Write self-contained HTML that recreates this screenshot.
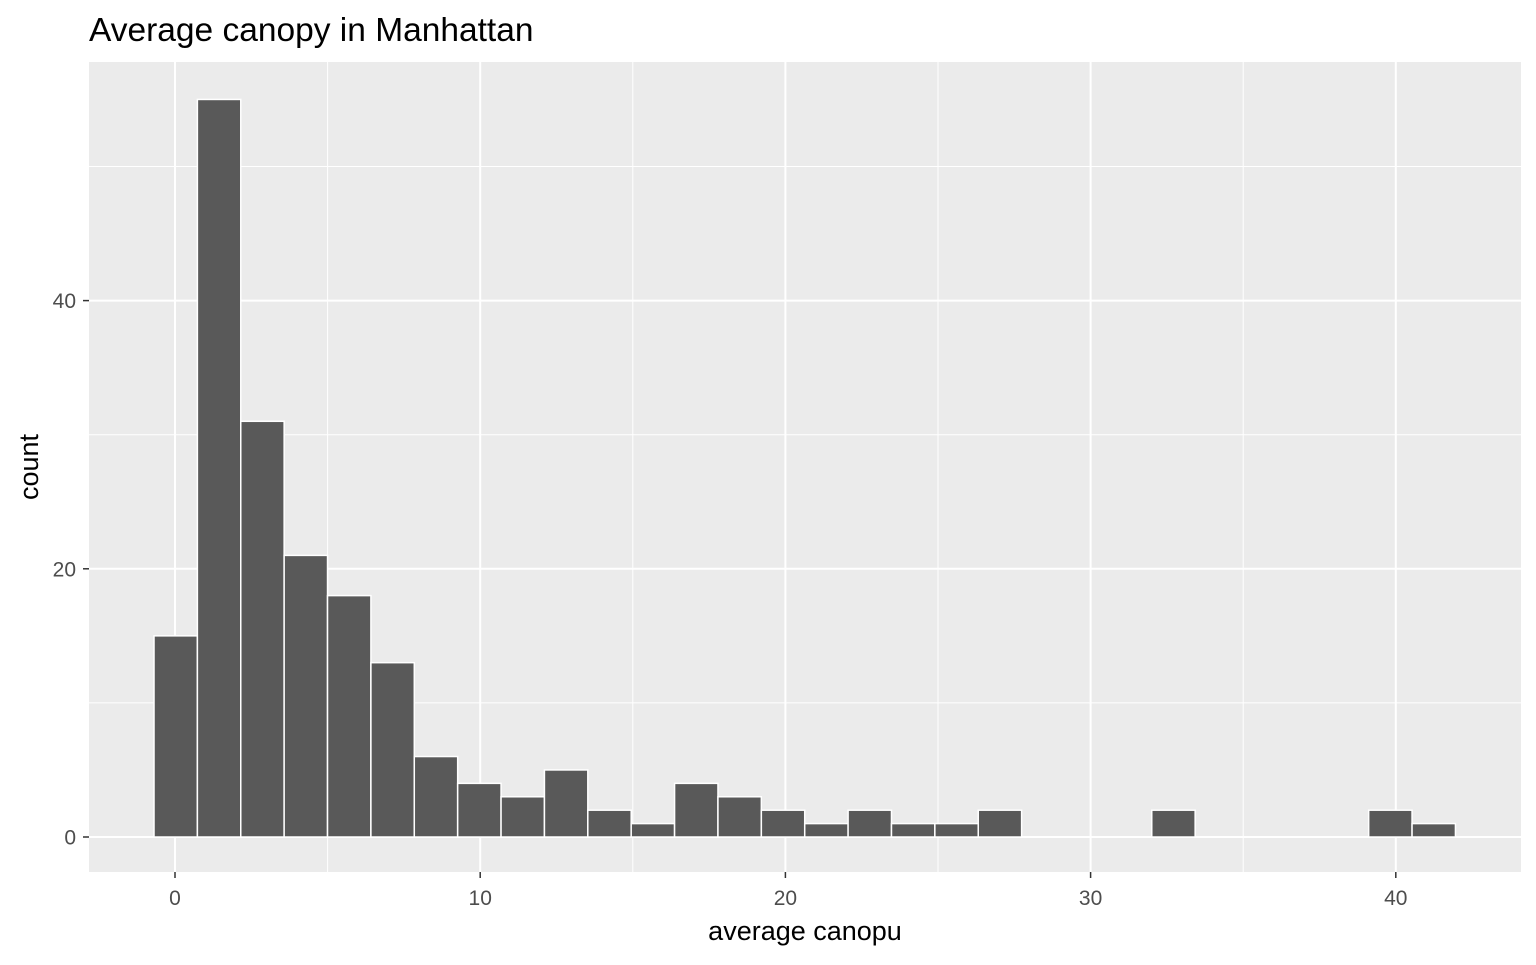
<!DOCTYPE html>
<html><head><meta charset="utf-8"><style>
body{margin:0;background:#fff;font-family:"Liberation Sans",sans-serif;}
</style></head><body>
<svg id="chart" width="1536" height="960" xmlns="http://www.w3.org/2000/svg">
<text x="89" y="41" font-size="33.5" fill="#000">Average canopy in Manhattan</text>
<rect x="89" y="62" width="1432" height="810" fill="#ebebeb"/>
<g id="grid"></g>
<g id="bars"></g>
<g id="axes"></g>
<text x="805" y="940" font-size="27" text-anchor="middle" fill="#000">average canopu</text>
<text transform="translate(38,467) rotate(-90)" font-size="27" text-anchor="middle" fill="#000">count</text>
</svg>
<script>
const counts=[15,55,31,21,18,13,6,4,3,5,2,1,4,3,2,1,2,1,1,2,0,0,0,2,0,0,0,0,2,1];
const binStart=-0.688;
const binWidth=1.4214;
const xTicks=[0,10,20,30,40];
const yTicks=[0,20,40];
const xMinor=[5,15,25,35];
const yMinor=[10,30,50];
const NS="http://www.w3.org/2000/svg";
const sx=v=>175+v*30.52;
const sy=v=>837-v*13.41;
function mk(tag,attrs,parent){const e=document.createElementNS(NS,tag);for(const k in attrs)e.setAttribute(k,attrs[k]);parent.appendChild(e);return e;}
const grid=document.getElementById('grid'),bars=document.getElementById('bars'),axes=document.getElementById('axes');
xMinor.forEach(v=>{const l=mk('line',{x1:sx(v),x2:sx(v),y1:62,y2:872,stroke:'#fff','stroke-width':1},grid);

});
yMinor.forEach(v=>{const l=mk('line',{x1:89,x2:1521,y1:sy(v),y2:sy(v),stroke:'#fff','stroke-width':1},grid);

});
xTicks.forEach(v=>{const l=mk('line',{x1:sx(v),x2:sx(v),y1:62,y2:872,stroke:'#fff','stroke-width':2},grid);


const t=mk('line',{x1:sx(v),x2:sx(v),y1:872,y2:878,stroke:'#333','stroke-width':1.5},axes);


const tx=mk('text',{x:sx(v),y:905,'font-size':21,'text-anchor':'middle',fill:'#4d4d4d'},axes);tx.textContent=v;

});
yTicks.forEach(v=>{const l=mk('line',{x1:89,x2:1521,y1:sy(v),y2:sy(v),stroke:'#fff','stroke-width':2},grid);


const t=mk('line',{x1:83,x2:89,y1:sy(v),y2:sy(v),stroke:'#333','stroke-width':1.5},axes);


const tx=mk('text',{x:76,y:sy(v)+7.5,'font-size':21,'text-anchor':'end',fill:'#4d4d4d'},axes);tx.textContent=v;

});
counts.forEach((c,i)=>{if(c<=0)return;const x0=sx(binStart+i*binWidth),x1=sx(binStart+(i+1)*binWidth);
const r=mk('rect',{x:x0,y:sy(c),width:x1-x0,height:sy(0)-sy(c),fill:'#595959',stroke:'#fff','stroke-width':1.5},bars);

});
</script>
</body></html>
